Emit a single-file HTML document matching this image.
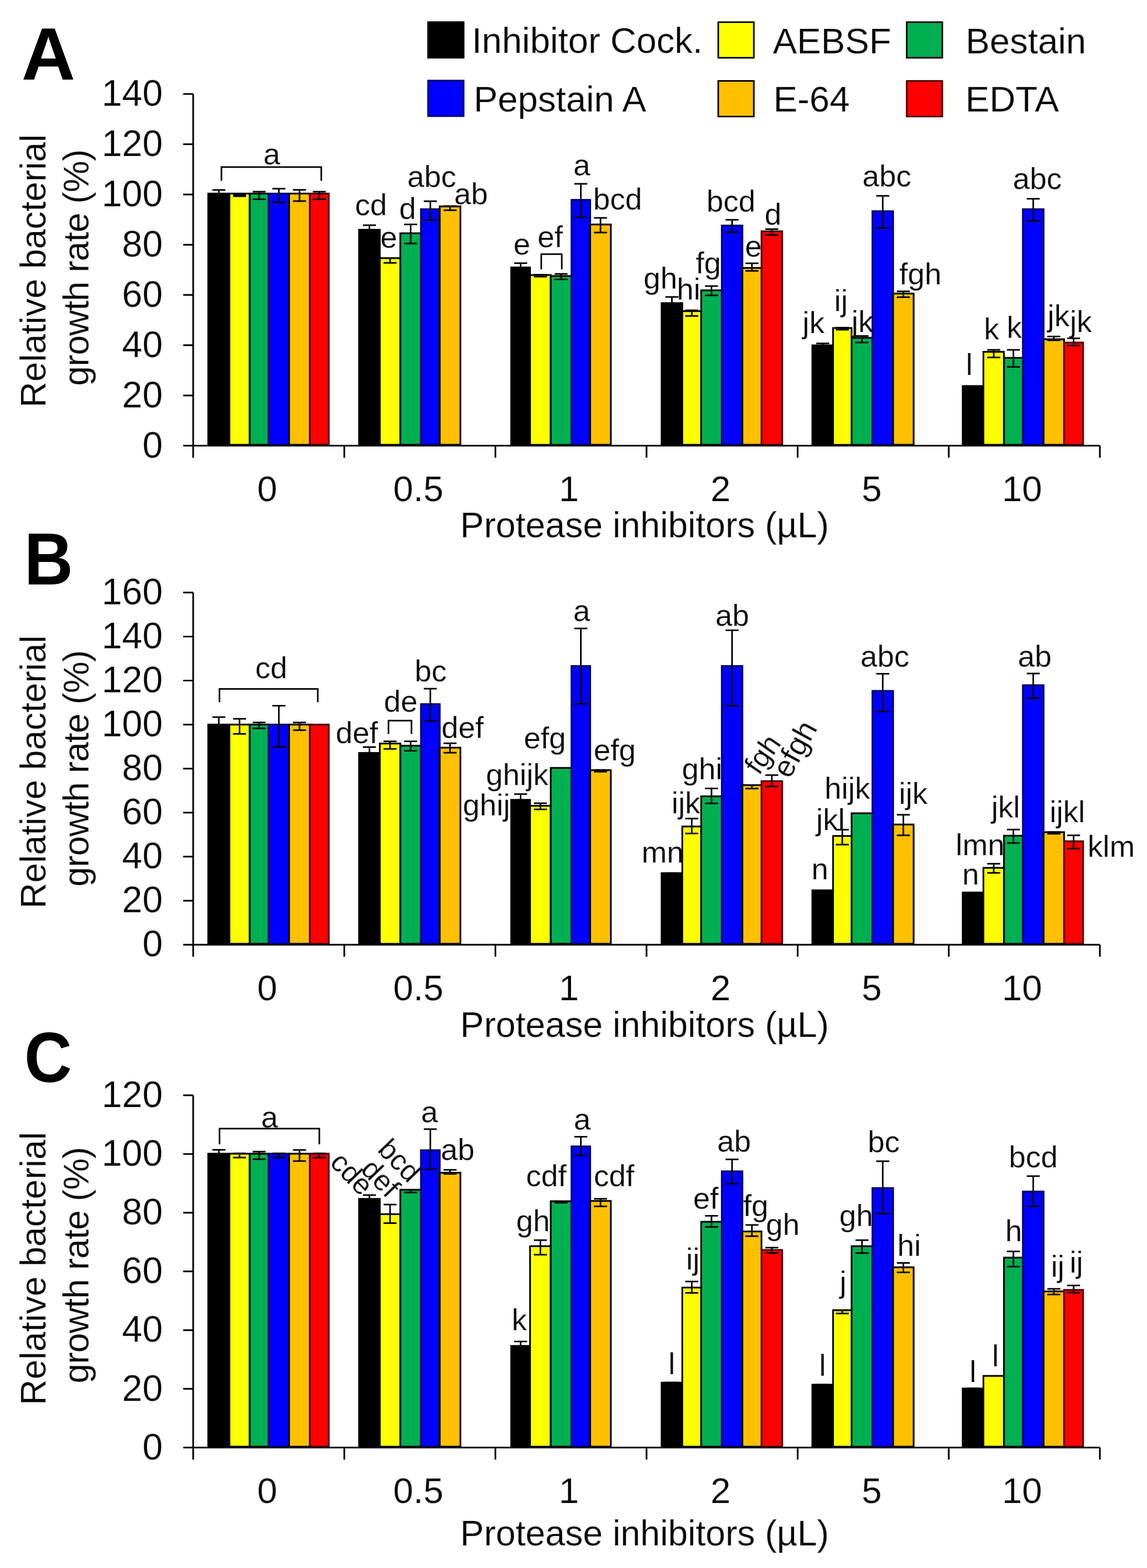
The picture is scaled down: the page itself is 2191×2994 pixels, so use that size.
<!DOCTYPE html>
<html><head><meta charset="utf-8"><title>Protease inhibitors</title><style>html,body{margin:0;padding:0;background:#fff;}svg{display:block;}</style></head><body>
<svg width="2191" height="2994" viewBox="0 0 2191 2994" font-family="'Liberation Sans', Arial, sans-serif" fill="#000">
<rect width="2191" height="2994" fill="#fff"/>
<rect x="397.8" y="369.6" width="40.4" height="479.7" fill="#000000" stroke="#000000" stroke-width="3.3"/>
<rect x="438.2" y="369.6" width="38.8" height="479.7" fill="#FFFF00" stroke="#000000" stroke-width="3.3"/>
<rect x="477" y="369.6" width="36.1" height="479.7" fill="#00B050" stroke="#000000" stroke-width="3.3"/>
<rect x="513.1" y="369.6" width="39.1" height="479.7" fill="#0000FF" stroke="#00006A" stroke-width="3.3"/>
<rect x="552.2" y="369.6" width="39.8" height="479.7" fill="#FFC000" stroke="#000000" stroke-width="3.3"/>
<rect x="592" y="369.6" width="36" height="479.7" fill="#FF0000" stroke="#4A0000" stroke-width="3.3"/>
<rect x="685.9" y="438.7" width="39.6" height="410.6" fill="#000000" stroke="#000000" stroke-width="3.3"/>
<rect x="725.5" y="492.9" width="39.2" height="356.4" fill="#FFFF00" stroke="#000000" stroke-width="3.3"/>
<rect x="764.7" y="445.4" width="39.4" height="403.9" fill="#00B050" stroke="#000000" stroke-width="3.3"/>
<rect x="804.1" y="399.4" width="35.9" height="450" fill="#0000FF" stroke="#00006A" stroke-width="3.3"/>
<rect x="840" y="394.1" width="39.5" height="455.2" fill="#FFC000" stroke="#000000" stroke-width="3.3"/>
<rect x="976.5" y="510.7" width="36" height="338.7" fill="#000000" stroke="#000000" stroke-width="3.3"/>
<rect x="1012.5" y="525.1" width="39.5" height="324.3" fill="#FFFF00" stroke="#000000" stroke-width="3.3"/>
<rect x="1052" y="527" width="39.6" height="322.4" fill="#00B050" stroke="#000000" stroke-width="3.3"/>
<rect x="1091.6" y="381.6" width="35.8" height="467.7" fill="#0000FF" stroke="#00006A" stroke-width="3.3"/>
<rect x="1127.4" y="428.6" width="39.4" height="420.7" fill="#FFC000" stroke="#000000" stroke-width="3.3"/>
<rect x="1263.8" y="578.8" width="39.6" height="270.6" fill="#000000" stroke="#000000" stroke-width="3.3"/>
<rect x="1303.3" y="594.1" width="36.1" height="255.2" fill="#FFFF00" stroke="#000000" stroke-width="3.3"/>
<rect x="1339.4" y="554.3" width="39.4" height="295" fill="#00B050" stroke="#000000" stroke-width="3.3"/>
<rect x="1378.8" y="430.6" width="39.3" height="418.8" fill="#0000FF" stroke="#00006A" stroke-width="3.3"/>
<rect x="1418.1" y="511.6" width="36.5" height="337.7" fill="#FFC000" stroke="#000000" stroke-width="3.3"/>
<rect x="1454.6" y="441.6" width="39.5" height="407.8" fill="#FF0000" stroke="#4A0000" stroke-width="3.3"/>
<rect x="1551.8" y="659.4" width="39.6" height="190" fill="#000000" stroke="#000000" stroke-width="3.3"/>
<rect x="1591.3" y="626.3" width="35.4" height="223.1" fill="#FFFF00" stroke="#000000" stroke-width="3.3"/>
<rect x="1626.7" y="645" width="39.8" height="204.4" fill="#00B050" stroke="#000000" stroke-width="3.3"/>
<rect x="1666.5" y="403.2" width="39.5" height="446.1" fill="#0000FF" stroke="#00006A" stroke-width="3.3"/>
<rect x="1706" y="560.5" width="39.2" height="288.8" fill="#FFC000" stroke="#000000" stroke-width="3.3"/>
<rect x="1839" y="737.1" width="39.5" height="112.3" fill="#000000" stroke="#000000" stroke-width="3.3"/>
<rect x="1878.5" y="671.8" width="39.2" height="177.5" fill="#FFFF00" stroke="#000000" stroke-width="3.3"/>
<rect x="1917.8" y="683.3" width="36.1" height="166" fill="#00B050" stroke="#000000" stroke-width="3.3"/>
<rect x="1953.9" y="399.4" width="39.6" height="450" fill="#0000FF" stroke="#00006A" stroke-width="3.3"/>
<rect x="1993.5" y="647.8" width="39.1" height="201.5" fill="#FFC000" stroke="#000000" stroke-width="3.3"/>
<rect x="2032.6" y="654.1" width="36.3" height="195.3" fill="#FF0000" stroke="#4A0000" stroke-width="3.3"/>
<path d="M418 362.7V383.9M405.6 362.7H430.4M405.6 383.9H430.4" stroke="#000" stroke-width="3.0" fill="none"/>
<path d="M457.6 371.9V374.7M445.2 371.9H470M445.2 374.7H470" stroke="#000" stroke-width="3.0" fill="none"/>
<path d="M495.1 366.1V380.5M482.7 366.1H507.4M482.7 380.5H507.4" stroke="#000" stroke-width="3.0" fill="none"/>
<path d="M532.7 360.3V386.2M520.3 360.3H545.1M520.3 386.2H545.1" stroke="#000" stroke-width="3.0" fill="none"/>
<path d="M572.1 362.5V384.1M559.7 362.5H584.5M559.7 384.1H584.5" stroke="#000" stroke-width="3.0" fill="none"/>
<path d="M610 366.1V380.5M597.6 366.1H622.4M597.6 380.5H622.4" stroke="#000" stroke-width="3.0" fill="none"/>
<path d="M705.7 430V450.1M693.3 430H718.1M693.3 450.1H718.1" stroke="#000" stroke-width="3.0" fill="none"/>
<path d="M745.1 492.3V501.9M732.7 501.9H757.5" stroke="#000" stroke-width="3.0" fill="none"/>
<path d="M784.4 428.6V465M772 428.6H796.8M772 465H796.8" stroke="#000" stroke-width="3.0" fill="none"/>
<path d="M822 384.2V420.5M809.6 384.2H834.4M809.6 420.5H834.4" stroke="#000" stroke-width="3.0" fill="none"/>
<path d="M859.7 393.4V401.5M847.3 393.4H872.1M847.3 401.5H872.1" stroke="#000" stroke-width="3.0" fill="none"/>
<path d="M994.5 502.4V521.6M982.1 502.4H1006.9M982.1 521.6H1006.9" stroke="#000" stroke-width="3.0" fill="none"/>
<path d="M1032.3 524.5V528.3M1019.9 524.5H1044.7M1019.9 528.3H1044.7" stroke="#000" stroke-width="3.0" fill="none"/>
<path d="M1071.8 523V533.6M1059.4 523H1084.2M1059.4 533.6H1084.2" stroke="#000" stroke-width="3.0" fill="none"/>
<path d="M1109.5 350.9V415.1M1097.1 350.9H1121.9M1097.1 415.1H1121.9" stroke="#000" stroke-width="3.0" fill="none"/>
<path d="M1147.1 416.1V443.9M1134.7 416.1H1159.5M1134.7 443.9H1159.5" stroke="#000" stroke-width="3.0" fill="none"/>
<path d="M1283.5 567.1V587.2M1271.1 567.1H1296M1271.1 587.2H1296" stroke="#000" stroke-width="3.0" fill="none"/>
<path d="M1321.4 592.4V603.3M1309 592.4H1333.8M1309 603.3H1333.8" stroke="#000" stroke-width="3.0" fill="none"/>
<path d="M1359.1 546.2V564.1M1346.7 546.2H1371.5M1346.7 564.1H1371.5" stroke="#000" stroke-width="3.0" fill="none"/>
<path d="M1398.4 419.8V443.4M1386 419.8H1410.8M1386 443.4H1410.8" stroke="#000" stroke-width="3.0" fill="none"/>
<path d="M1436.3 502.8V517.2M1423.9 502.8H1448.8M1423.9 517.2H1448.8" stroke="#000" stroke-width="3.0" fill="none"/>
<path d="M1474.3 437.5V448.4M1461.9 437.5H1486.7M1461.9 448.4H1486.7" stroke="#000" stroke-width="3.0" fill="none"/>
<path d="M1571.5 655.8V659.6M1559.1 655.8H1584M1559.1 659.6H1584" stroke="#000" stroke-width="3.0" fill="none"/>
<path d="M1609 625.7V629.5M1596.6 625.7H1621.4M1596.6 629.5H1621.4" stroke="#000" stroke-width="3.0" fill="none"/>
<path d="M1646.6 641.5V653.9M1634.2 641.5H1659M1634.2 653.9H1659" stroke="#000" stroke-width="3.0" fill="none"/>
<path d="M1686.2 373.9V435.3M1673.8 373.9H1698.7M1673.8 435.3H1698.7" stroke="#000" stroke-width="3.0" fill="none"/>
<path d="M1725.6 556.3V567.5M1713.2 556.3H1738M1713.2 567.5H1738" stroke="#000" stroke-width="3.0" fill="none"/>
<path d="M1898.2 668.1V682.5M1885.8 668.1H1910.6M1885.8 682.5H1910.6" stroke="#000" stroke-width="3.0" fill="none"/>
<path d="M1935.8 668.1V700.5M1923.4 668.1H1948.2M1923.4 700.5H1948.2" stroke="#000" stroke-width="3.0" fill="none"/>
<path d="M1973.7 379.6V421.8M1961.3 379.6H1986.1M1961.3 421.8H1986.1" stroke="#000" stroke-width="3.0" fill="none"/>
<path d="M2013 642.5V649.8M2000.6 642.5H2025.5M2000.6 649.8H2025.5" stroke="#000" stroke-width="3.0" fill="none"/>
<path d="M2050.8 646.1V659.7M2038.4 646.1H2063.2M2038.4 659.7H2063.2" stroke="#000" stroke-width="3.0" fill="none"/>
<path d="M369.0 179.5V874" stroke="#000" stroke-width="3.2" fill="none"/>
<path d="M369.0 851H2101.0" stroke="#000" stroke-width="3.2" fill="none"/>
<path d="M350 851H369.0M350 755.1H369.0M350 659.1H369.0M350 563.2H369.0M350 467.3H369.0M350 371.4H369.0M350 275.4H369.0M350 179.5H369.0M657.7 851V874M946.3 851V874M1235 851V874M1523.7 851V874M1812.3 851V874M2101 851V874" stroke="#000" stroke-width="3.2" fill="none"/>
<path d="M423 345.3V319H613.7V345.3" stroke="#000" stroke-width="3.0" fill="none"/>
<path d="M1033.9 514.3V485.2H1073.1V514.3" stroke="#000" stroke-width="3.0" fill="none"/>
<rect x="397.8" y="1383.5" width="40.4" height="418.6" fill="#000000" stroke="#000000" stroke-width="3.3"/>
<rect x="438.2" y="1383.5" width="38.8" height="418.6" fill="#FFFF00" stroke="#000000" stroke-width="3.3"/>
<rect x="477" y="1383.5" width="36.1" height="418.6" fill="#00B050" stroke="#000000" stroke-width="3.3"/>
<rect x="513.1" y="1383.5" width="39.1" height="418.6" fill="#0000FF" stroke="#00006A" stroke-width="3.3"/>
<rect x="552.2" y="1383.5" width="39.8" height="418.6" fill="#FFC000" stroke="#000000" stroke-width="3.3"/>
<rect x="592" y="1383.5" width="36" height="418.6" fill="#FF0000" stroke="#4A0000" stroke-width="3.3"/>
<rect x="685.9" y="1437.7" width="39.6" height="364.4" fill="#000000" stroke="#000000" stroke-width="3.3"/>
<rect x="725.5" y="1419.7" width="39.2" height="382.5" fill="#FFFF00" stroke="#000000" stroke-width="3.3"/>
<rect x="764.7" y="1423.9" width="39.4" height="378.3" fill="#00B050" stroke="#000000" stroke-width="3.3"/>
<rect x="804.1" y="1344.4" width="35.9" height="457.7" fill="#0000FF" stroke="#00006A" stroke-width="3.3"/>
<rect x="840" y="1427.6" width="39.5" height="374.5" fill="#FFC000" stroke="#000000" stroke-width="3.3"/>
<rect x="976.5" y="1527.2" width="36" height="274.9" fill="#000000" stroke="#000000" stroke-width="3.3"/>
<rect x="1012.5" y="1538.6" width="39.5" height="263.6" fill="#FFFF00" stroke="#000000" stroke-width="3.3"/>
<rect x="1052" y="1466.3" width="39.6" height="335.8" fill="#00B050" stroke="#000000" stroke-width="3.3"/>
<rect x="1091.6" y="1271.7" width="35.8" height="530.4" fill="#0000FF" stroke="#00006A" stroke-width="3.3"/>
<rect x="1127.4" y="1470.5" width="39.4" height="331.6" fill="#FFC000" stroke="#000000" stroke-width="3.3"/>
<rect x="1263.8" y="1667.2" width="39.6" height="135" fill="#000000" stroke="#000000" stroke-width="3.3"/>
<rect x="1303.3" y="1578.1" width="36.1" height="224.1" fill="#FFFF00" stroke="#000000" stroke-width="3.3"/>
<rect x="1339.4" y="1520.5" width="39.4" height="281.6" fill="#00B050" stroke="#000000" stroke-width="3.3"/>
<rect x="1378.8" y="1271.7" width="39.3" height="530.4" fill="#0000FF" stroke="#00006A" stroke-width="3.3"/>
<rect x="1418.1" y="1499.1" width="36.5" height="303.1" fill="#FFC000" stroke="#000000" stroke-width="3.3"/>
<rect x="1454.6" y="1491.5" width="39.5" height="310.6" fill="#FF0000" stroke="#4A0000" stroke-width="3.3"/>
<rect x="1551.8" y="1700" width="39.6" height="102.2" fill="#000000" stroke="#000000" stroke-width="3.3"/>
<rect x="1591.3" y="1596.2" width="35.4" height="206" fill="#FFFF00" stroke="#000000" stroke-width="3.3"/>
<rect x="1626.7" y="1552.9" width="39.8" height="249.3" fill="#00B050" stroke="#000000" stroke-width="3.3"/>
<rect x="1666.5" y="1319.2" width="39.5" height="482.9" fill="#0000FF" stroke="#00006A" stroke-width="3.3"/>
<rect x="1706" y="1574.3" width="39.2" height="227.8" fill="#FFC000" stroke="#000000" stroke-width="3.3"/>
<rect x="1839" y="1704.2" width="39.5" height="98" fill="#000000" stroke="#000000" stroke-width="3.3"/>
<rect x="1878.5" y="1657.1" width="39.2" height="145" fill="#FFFF00" stroke="#000000" stroke-width="3.3"/>
<rect x="1917.8" y="1595.7" width="36.1" height="206.4" fill="#00B050" stroke="#000000" stroke-width="3.3"/>
<rect x="1953.9" y="1308.3" width="39.6" height="493.9" fill="#0000FF" stroke="#00006A" stroke-width="3.3"/>
<rect x="1993.5" y="1589" width="39.1" height="213.1" fill="#FFC000" stroke="#000000" stroke-width="3.3"/>
<rect x="2032.6" y="1606.3" width="36.3" height="195.9" fill="#FF0000" stroke="#4A0000" stroke-width="3.3"/>
<path d="M418 1369.2V1404.5M405.6 1369.2H430.4M405.6 1404.5H430.4" stroke="#000" stroke-width="3.0" fill="none"/>
<path d="M457.6 1372.5V1401.3M445.2 1372.5H470M445.2 1401.3H470" stroke="#000" stroke-width="3.0" fill="none"/>
<path d="M495.1 1379.6V1390.7M482.7 1379.6H507.4M482.7 1390.7H507.4" stroke="#000" stroke-width="3.0" fill="none"/>
<path d="M532.7 1347.6V1426.6M520.3 1347.6H545.1M520.3 1426.6H545.1" stroke="#000" stroke-width="3.0" fill="none"/>
<path d="M572.1 1379.6V1394.3M559.7 1379.6H584.5M559.7 1394.3H584.5" stroke="#000" stroke-width="3.0" fill="none"/>
<path d="M705.7 1426.5V1451.7M693.3 1426.5H718.1M693.3 1451.7H718.1" stroke="#000" stroke-width="3.0" fill="none"/>
<path d="M745.1 1415.5V1429.9M732.7 1415.5H757.5M732.7 1429.9H757.5" stroke="#000" stroke-width="3.0" fill="none"/>
<path d="M784.4 1415.6V1433.6M772 1415.6H796.8M772 1433.6H796.8" stroke="#000" stroke-width="3.0" fill="none"/>
<path d="M822 1315V1376.3M809.6 1315H834.4M809.6 1376.3H834.4" stroke="#000" stroke-width="3.0" fill="none"/>
<path d="M859.7 1419.3V1437.3M847.3 1419.3H872.1M847.3 1437.3H872.1" stroke="#000" stroke-width="3.0" fill="none"/>
<path d="M994.5 1516.2V1541M982.1 1516.2H1006.9M982.1 1541H1006.9" stroke="#000" stroke-width="3.0" fill="none"/>
<path d="M1032.3 1533.8V1545.5M1019.9 1533.8H1044.7M1019.9 1545.5H1044.7" stroke="#000" stroke-width="3.0" fill="none"/>
<path d="M1109.5 1200V1343.7M1097.1 1200H1121.9M1097.1 1343.7H1121.9" stroke="#000" stroke-width="3.0" fill="none"/>
<path d="M1147.1 1470.2V1473.5M1134.7 1470.2H1159.5M1134.7 1473.5H1159.5" stroke="#000" stroke-width="3.0" fill="none"/>
<path d="M1283.5 1667.3V1669.8M1271.1 1667.3H1296M1271.1 1669.8H1296" stroke="#000" stroke-width="3.0" fill="none"/>
<path d="M1321.4 1563.1V1591.4M1309 1563.1H1333.8M1309 1591.4H1333.8" stroke="#000" stroke-width="3.0" fill="none"/>
<path d="M1359.1 1505.4V1534.1M1346.7 1505.4H1371.5M1346.7 1534.1H1371.5" stroke="#000" stroke-width="3.0" fill="none"/>
<path d="M1398.4 1203.4V1347.6M1386 1203.4H1410.8M1386 1347.6H1410.8" stroke="#000" stroke-width="3.0" fill="none"/>
<path d="M1436.3 1499.5V1505.8M1423.9 1499.5H1448.8M1423.9 1505.8H1448.8" stroke="#000" stroke-width="3.0" fill="none"/>
<path d="M1474.3 1480.1V1501.7M1461.9 1480.1H1486.7M1461.9 1501.7H1486.7" stroke="#000" stroke-width="3.0" fill="none"/>
<path d="M1609 1584.2V1612.8M1596.6 1584.2H1621.4M1596.6 1612.8H1621.4" stroke="#000" stroke-width="3.0" fill="none"/>
<path d="M1686.2 1286.4V1358.5M1673.8 1286.4H1698.7M1673.8 1358.5H1698.7" stroke="#000" stroke-width="3.0" fill="none"/>
<path d="M1725.6 1555.7V1595.1M1713.2 1555.7H1738M1713.2 1595.1H1738" stroke="#000" stroke-width="3.0" fill="none"/>
<path d="M1898.2 1649.2V1666.7M1885.8 1649.2H1910.6M1885.8 1666.7H1910.6" stroke="#000" stroke-width="3.0" fill="none"/>
<path d="M1935.8 1583.9V1609.7M1923.4 1583.9H1948.2M1923.4 1609.7H1948.2" stroke="#000" stroke-width="3.0" fill="none"/>
<path d="M1973.7 1286.1V1333M1961.3 1286.1H1986.1M1961.3 1333H1986.1" stroke="#000" stroke-width="3.0" fill="none"/>
<path d="M2013 1588.7V1592.1M2000.6 1588.7H2025.5M2000.6 1592.1H2025.5" stroke="#000" stroke-width="3.0" fill="none"/>
<path d="M2050.8 1595V1620.2M2038.4 1595H2063.2M2038.4 1620.2H2063.2" stroke="#000" stroke-width="3.0" fill="none"/>
<path d="M369.0 1131.4V1826.8" stroke="#000" stroke-width="3.2" fill="none"/>
<path d="M369.0 1803.8H2101.0" stroke="#000" stroke-width="3.2" fill="none"/>
<path d="M350 1803.8H369.0M350 1719.8H369.0M350 1635.7H369.0M350 1551.7H369.0M350 1467.6H369.0M350 1383.6H369.0M350 1299.5H369.0M350 1215.5H369.0M350 1131.4H369.0M657.7 1803.8V1826.8M946.3 1803.8V1826.8M1235 1803.8V1826.8M1523.7 1803.8V1826.8M1812.3 1803.8V1826.8M2101 1803.8V1826.8" stroke="#000" stroke-width="3.2" fill="none"/>
<path d="M419.2 1340.8V1315.4H607V1340.8" stroke="#000" stroke-width="3.0" fill="none"/>
<path d="M742.1 1401.4V1376H786V1401.4" stroke="#000" stroke-width="3.0" fill="none"/>
<rect x="397.8" y="2202.9" width="40.4" height="559.4" fill="#000000" stroke="#000000" stroke-width="3.3"/>
<rect x="438.2" y="2202.9" width="38.8" height="559.4" fill="#FFFF00" stroke="#000000" stroke-width="3.3"/>
<rect x="477" y="2202.9" width="36.1" height="559.4" fill="#00B050" stroke="#000000" stroke-width="3.3"/>
<rect x="513.1" y="2202.9" width="39.1" height="559.4" fill="#0000FF" stroke="#00006A" stroke-width="3.3"/>
<rect x="552.2" y="2202.9" width="39.8" height="559.4" fill="#FFC000" stroke="#000000" stroke-width="3.3"/>
<rect x="592" y="2202.9" width="36" height="559.4" fill="#FF0000" stroke="#4A0000" stroke-width="3.3"/>
<rect x="685.9" y="2289.2" width="39.6" height="473.1" fill="#000000" stroke="#000000" stroke-width="3.3"/>
<rect x="725.5" y="2318.4" width="39.2" height="444" fill="#FFFF00" stroke="#000000" stroke-width="3.3"/>
<rect x="764.7" y="2271.8" width="39.4" height="490.5" fill="#00B050" stroke="#000000" stroke-width="3.3"/>
<rect x="804.1" y="2196.2" width="35.9" height="566.2" fill="#0000FF" stroke="#00006A" stroke-width="3.3"/>
<rect x="840" y="2239.3" width="39.5" height="523" fill="#FFC000" stroke="#000000" stroke-width="3.3"/>
<rect x="976.5" y="2570" width="36" height="192.3" fill="#000000" stroke="#000000" stroke-width="3.3"/>
<rect x="1012.5" y="2379.5" width="39.5" height="382.9" fill="#FFFF00" stroke="#000000" stroke-width="3.3"/>
<rect x="1052" y="2293.7" width="39.6" height="468.6" fill="#00B050" stroke="#000000" stroke-width="3.3"/>
<rect x="1091.6" y="2188.9" width="35.8" height="573.5" fill="#0000FF" stroke="#00006A" stroke-width="3.3"/>
<rect x="1127.4" y="2293.1" width="39.4" height="469.2" fill="#FFC000" stroke="#000000" stroke-width="3.3"/>
<rect x="1263.8" y="2640.1" width="39.6" height="122.3" fill="#000000" stroke="#000000" stroke-width="3.3"/>
<rect x="1303.3" y="2458.5" width="36.1" height="303.9" fill="#FFFF00" stroke="#000000" stroke-width="3.3"/>
<rect x="1339.4" y="2332.9" width="39.4" height="429.4" fill="#00B050" stroke="#000000" stroke-width="3.3"/>
<rect x="1378.8" y="2236.5" width="39.3" height="525.8" fill="#0000FF" stroke="#00006A" stroke-width="3.3"/>
<rect x="1418.1" y="2351.4" width="36.5" height="410.9" fill="#FFC000" stroke="#000000" stroke-width="3.3"/>
<rect x="1454.6" y="2386.8" width="39.5" height="375.6" fill="#FF0000" stroke="#4A0000" stroke-width="3.3"/>
<rect x="1551.8" y="2644" width="39.6" height="118.3" fill="#000000" stroke="#000000" stroke-width="3.3"/>
<rect x="1591.3" y="2501.7" width="35.4" height="260.7" fill="#FFFF00" stroke="#000000" stroke-width="3.3"/>
<rect x="1626.7" y="2379.5" width="39.8" height="382.9" fill="#00B050" stroke="#000000" stroke-width="3.3"/>
<rect x="1666.5" y="2268.5" width="39.5" height="493.9" fill="#0000FF" stroke="#00006A" stroke-width="3.3"/>
<rect x="1706" y="2419.8" width="39.2" height="342.5" fill="#FFC000" stroke="#000000" stroke-width="3.3"/>
<rect x="1839" y="2651.3" width="39.5" height="111" fill="#000000" stroke="#000000" stroke-width="3.3"/>
<rect x="1878.5" y="2627.2" width="39.2" height="135.1" fill="#FFFF00" stroke="#000000" stroke-width="3.3"/>
<rect x="1917.8" y="2401.3" width="36.1" height="361" fill="#00B050" stroke="#000000" stroke-width="3.3"/>
<rect x="1953.9" y="2275.2" width="39.6" height="487.1" fill="#0000FF" stroke="#00006A" stroke-width="3.3"/>
<rect x="1993.5" y="2465.8" width="39.1" height="296.6" fill="#FFC000" stroke="#000000" stroke-width="3.3"/>
<rect x="2032.6" y="2463" width="36.3" height="299.4" fill="#FF0000" stroke="#4A0000" stroke-width="3.3"/>
<path d="M418 2195.6V2216.9M405.6 2195.6H430.4M405.6 2216.9H430.4" stroke="#000" stroke-width="3.0" fill="none"/>
<path d="M457.6 2202.3V2210.2M445.2 2202.3H470M445.2 2210.2H470" stroke="#000" stroke-width="3.0" fill="none"/>
<path d="M495.1 2199V2213.5M482.7 2199H507.4M482.7 2213.5H507.4" stroke="#000" stroke-width="3.0" fill="none"/>
<path d="M532.7 2202.3V2210.2M520.3 2202.3H545.1M520.3 2210.2H545.1" stroke="#000" stroke-width="3.0" fill="none"/>
<path d="M572.1 2195.8V2217.1M559.7 2195.8H584.5M559.7 2217.1H584.5" stroke="#000" stroke-width="3.0" fill="none"/>
<path d="M610 2202.3V2210.2M597.6 2202.3H622.4M597.6 2210.2H622.4" stroke="#000" stroke-width="3.0" fill="none"/>
<path d="M705.7 2282.1V2299.1M693.3 2282.1H718.1M693.3 2299.1H718.1" stroke="#000" stroke-width="3.0" fill="none"/>
<path d="M745.1 2299.9V2335.5M732.7 2299.9H757.5M732.7 2335.5H757.5" stroke="#000" stroke-width="3.0" fill="none"/>
<path d="M784.4 2271.4V2277M772 2271.4H796.8M772 2277H796.8" stroke="#000" stroke-width="3.0" fill="none"/>
<path d="M822 2156V2233.1M809.6 2156H834.4M809.6 2233.1H834.4" stroke="#000" stroke-width="3.0" fill="none"/>
<path d="M859.7 2233.8V2241.6M847.3 2233.8H872.1M847.3 2241.6H872.1" stroke="#000" stroke-width="3.0" fill="none"/>
<path d="M994.5 2561.6V2581.2M982.1 2561.6H1006.9M982.1 2581.2H1006.9" stroke="#000" stroke-width="3.0" fill="none"/>
<path d="M1032.3 2368V2395.8M1019.9 2368H1044.7M1019.9 2395.8H1044.7" stroke="#000" stroke-width="3.0" fill="none"/>
<path d="M1071.8 2293.5V2296.6M1059.4 2293.5H1084.2M1059.4 2296.6H1084.2" stroke="#000" stroke-width="3.0" fill="none"/>
<path d="M1109.5 2170.4V2206.3M1097.1 2170.4H1121.9M1097.1 2206.3H1121.9" stroke="#000" stroke-width="3.0" fill="none"/>
<path d="M1147.1 2289V2303.4M1134.7 2289H1159.5M1134.7 2303.4H1159.5" stroke="#000" stroke-width="3.0" fill="none"/>
<path d="M1283.5 2639.8V2643.1M1271.1 2639.8H1296M1271.1 2643.1H1296" stroke="#000" stroke-width="3.0" fill="none"/>
<path d="M1321.4 2447V2468.7M1309 2447H1333.8M1309 2468.7H1333.8" stroke="#000" stroke-width="3.0" fill="none"/>
<path d="M1359.1 2321.5V2342.7M1346.7 2321.5H1371.5M1346.7 2342.7H1371.5" stroke="#000" stroke-width="3.0" fill="none"/>
<path d="M1398.4 2213.7V2260.3M1386 2213.7H1410.8M1386 2260.3H1410.8" stroke="#000" stroke-width="3.0" fill="none"/>
<path d="M1436.3 2339.1V2360.4M1423.9 2339.1H1448.8M1423.9 2360.4H1448.8" stroke="#000" stroke-width="3.0" fill="none"/>
<path d="M1474.3 2382.2V2392.4M1461.9 2382.2H1486.7M1461.9 2392.4H1486.7" stroke="#000" stroke-width="3.0" fill="none"/>
<path d="M1571.5 2643.7V2647.1M1559.1 2643.7H1584M1559.1 2647.1H1584" stroke="#000" stroke-width="3.0" fill="none"/>
<path d="M1609 2502V2508M1596.6 2502H1621.4M1596.6 2508H1621.4" stroke="#000" stroke-width="3.0" fill="none"/>
<path d="M1646.6 2368V2392.8M1634.2 2368H1659M1634.2 2392.8H1659" stroke="#000" stroke-width="3.0" fill="none"/>
<path d="M1686.2 2217.2V2317.3M1673.8 2217.2H1698.7M1673.8 2317.3H1698.7" stroke="#000" stroke-width="3.0" fill="none"/>
<path d="M1725.6 2411.4V2429.5M1713.2 2411.4H1738M1713.2 2429.5H1738" stroke="#000" stroke-width="3.0" fill="none"/>
<path d="M1858.8 2651V2654.3M1846.4 2651H1871.2M1846.4 2654.3H1871.2" stroke="#000" stroke-width="3.0" fill="none"/>
<path d="M1935.8 2389.6V2418.5M1923.4 2389.6H1948.2M1923.4 2418.5H1948.2" stroke="#000" stroke-width="3.0" fill="none"/>
<path d="M1973.7 2245.7V2303.6M1961.3 2245.7H1986.1M1961.3 2303.6H1986.1" stroke="#000" stroke-width="3.0" fill="none"/>
<path d="M2013 2461.1V2471.8M2000.6 2461.1H2025.5M2000.6 2471.8H2025.5" stroke="#000" stroke-width="3.0" fill="none"/>
<path d="M2050.8 2454.4V2468.3M2038.4 2454.4H2063.2M2038.4 2468.3H2063.2" stroke="#000" stroke-width="3.0" fill="none"/>
<path d="M369.0 2091.4V2787" stroke="#000" stroke-width="3.2" fill="none"/>
<path d="M369.0 2764H2101.0" stroke="#000" stroke-width="3.2" fill="none"/>
<path d="M350 2764H369.0M350 2651.9H369.0M350 2539.8H369.0M350 2427.7H369.0M350 2315.6H369.0M350 2203.5H369.0M350 2091.4H369.0M657.7 2764V2787M946.3 2764V2787M1235 2764V2787M1523.7 2764V2787M1812.3 2764V2787M2101 2764V2787" stroke="#000" stroke-width="3.2" fill="none"/>
<path d="M419.3 2185V2155.1H610V2185" stroke="#000" stroke-width="3.0" fill="none"/>
<text transform="translate(41 152.1) scale(1.0177 1.0050)" x="0" y="0" font-size="140" font-weight="bold">A</text>
<text transform="translate(46.3 1115.7) scale(0.9239 1.0081)" x="0" y="0" font-size="140" font-weight="bold">B</text>
<text transform="translate(46.4 2066.2) scale(0.8989 0.9736)" x="0" y="0" font-size="140" font-weight="bold">C</text>
<rect x="817.7" y="42.2" width="68" height="68" fill="#000000" stroke="#000000" stroke-width="3"/>
<rect x="1372" y="42.3" width="68" height="68" fill="#FFFF00" stroke="#000000" stroke-width="3"/>
<rect x="1732" y="42.3" width="68" height="68" fill="#00B050" stroke="#000000" stroke-width="3"/>
<rect x="817.7" y="153.8" width="68" height="68" fill="#0000FF" stroke="#00006A" stroke-width="3"/>
<rect x="1372" y="154.5" width="68" height="68" fill="#FFC000" stroke="#000000" stroke-width="3"/>
<rect x="1732" y="154.5" width="68" height="68" fill="#FF0000" stroke="#4A0000" stroke-width="3"/>
<defs><filter id="thin" x="0" y="0" width="2191" height="2994" filterUnits="userSpaceOnUse"><feMorphology in="SourceGraphic" operator="erode" radius="0.6" result="core"/><feComponentTransfer in="SourceGraphic" result="halo"><feFuncA type="linear" slope="0.8"/></feComponentTransfer><feMerge><feMergeNode in="halo"/><feMergeNode in="core"/></feMerge></filter></defs>
<g filter="url(#thin)">
<text x="272" y="873.6" font-size="70">0</text>
<text x="233.1" y="777.7" font-size="70">20</text>
<text x="233.1" y="681.8" font-size="70">40</text>
<text x="233.1" y="585.8" font-size="70">60</text>
<text x="233.1" y="489.9" font-size="70">80</text>
<text x="194.2" y="394" font-size="70">100</text>
<text x="194.2" y="298" font-size="70">120</text>
<text x="194.2" y="202.1" font-size="70">140</text>
<text x="491.2" y="957" font-size="69">0</text>
<text x="751.1" y="957" font-size="69">0.5</text>
<text x="1067.6" y="957" font-size="69">1</text>
<text x="1357.2" y="957" font-size="69">2</text>
<text x="1645.9" y="957" font-size="69">5</text>
<text x="1914" y="957" font-size="69">10</text>
<text x="879.1" y="1026" font-size="68">Protease inhibitors (µL)</text>
<text transform="translate(87 516.6) rotate(-90)" x="-261.3" y="0" font-size="68">Relative bacterial</text>
<text transform="translate(169 511.6) rotate(-90)" x="-225.1" y="0" font-size="68" textLength="451.6" lengthAdjust="spacing">growth rate (%)</text>
<text x="678.1" y="410.8" font-size="58">cd</text>
<text x="726.4" y="472.5" font-size="58">e</text>
<text x="762.5" y="418" font-size="58">d</text>
<text x="778" y="357.2" font-size="58">abc</text>
<text x="867.5" y="389.9" font-size="58">ab</text>
<text x="980.8" y="486.3" font-size="58">e</text>
<text x="1026.8" y="471.8" font-size="58">ef</text>
<text x="1095.2" y="334.5" font-size="58">a</text>
<text x="1133.1" y="399.9" font-size="58">bcd</text>
<text x="1229.3" y="550.7" font-size="58">gh</text>
<text x="1292.7" y="571.6" font-size="58">hi</text>
<text x="1329" y="521.6" font-size="58">fg</text>
<text x="1349.4" y="403.6" font-size="58">bcd</text>
<text x="1423.1" y="489.8" font-size="58">e</text>
<text x="1460.4" y="429" font-size="58">d</text>
<text x="1533" y="636.2" font-size="58">jk</text>
<text x="1593.6" y="593.5" font-size="58">ij</text>
<text x="1626.5" y="633.5" font-size="58">jk</text>
<text x="1647.3" y="356.3" font-size="58">abc</text>
<text x="1717.8" y="543.3" font-size="58">fgh</text>
<text x="1845" y="716.2" font-size="58">l</text>
<text x="1879.5" y="648.1" font-size="58">k</text>
<text x="1922.9" y="644.7" font-size="58">k</text>
<text x="1934.8" y="360.7" font-size="58">abc</text>
<text x="2001" y="622.7" font-size="58">jk</text>
<text x="2043.8" y="633.6" font-size="58">jk</text>
<text x="502.9" y="314" font-size="58">a</text>
<text x="272" y="1826.4" font-size="70">0</text>
<text x="233.1" y="1742.4" font-size="70">20</text>
<text x="233.1" y="1658.3" font-size="70">40</text>
<text x="233.1" y="1574.3" font-size="70">60</text>
<text x="233.1" y="1490.2" font-size="70">80</text>
<text x="194.2" y="1406.2" font-size="70">100</text>
<text x="194.2" y="1322.1" font-size="70">120</text>
<text x="194.2" y="1238.1" font-size="70">140</text>
<text x="194.2" y="1154" font-size="70">160</text>
<text x="491.2" y="1909.8" font-size="69">0</text>
<text x="751.1" y="1909.8" font-size="69">0.5</text>
<text x="1067.6" y="1909.8" font-size="69">1</text>
<text x="1357.2" y="1909.8" font-size="69">2</text>
<text x="1645.9" y="1909.8" font-size="69">5</text>
<text x="1914" y="1909.8" font-size="69">10</text>
<text x="879.1" y="1980.3" font-size="68">Protease inhibitors (µL)</text>
<text transform="translate(87 1473.4) rotate(-90)" x="-261.3" y="0" font-size="68">Relative bacterial</text>
<text transform="translate(169 1467.8) rotate(-90)" x="-225.1" y="0" font-size="68" textLength="451.6" lengthAdjust="spacing">growth rate (%)</text>
<text x="487.6" y="1294.6" font-size="58">cd</text>
<text x="641.3" y="1418.9" font-size="58">def</text>
<text x="733.3" y="1358.9" font-size="58">de</text>
<text x="791.9" y="1300.8" font-size="58">bc</text>
<text x="843.3" y="1408.7" font-size="58">def</text>
<text x="884.1" y="1557" font-size="58">ghij</text>
<text x="928.3" y="1499.2" font-size="58">ghijk</text>
<text x="1000.5" y="1429.4" font-size="58">efg</text>
<text x="1095.1" y="1186.4" font-size="58">a</text>
<text x="1134" y="1452.3" font-size="58">efg</text>
<text x="1225.5" y="1646.5" font-size="58">mn</text>
<text x="1282.8" y="1552.9" font-size="58">ijk</text>
<text x="1302.4" y="1488" font-size="58">ghi</text>
<text x="1366.6" y="1194.5" font-size="58">ab</text>
<text x="1550.1" y="1678.5" font-size="58">n</text>
<text x="1559.1" y="1585.3" font-size="58">jkl</text>
<text x="1575" y="1525" font-size="58">hijk</text>
<text x="1643.4" y="1273.1" font-size="58">abc</text>
<text x="1717.1" y="1535.1" font-size="58">ijk</text>
<text x="1838.1" y="1689.4" font-size="58">n</text>
<text x="1825.6" y="1632.6" font-size="58">lmn</text>
<text x="1893.7" y="1561" font-size="58">jkl</text>
<text x="1944.3" y="1273.1" font-size="58">ab</text>
<text x="2005.1" y="1570.4" font-size="58">ijkl</text>
<text x="2077.6" y="1635.8" font-size="58">klm</text>
<text transform="translate(1450 1482) rotate(-55)" x="0" y="0" font-size="55">fgh</text>
<text transform="translate(1508 1489) rotate(-61)" x="0" y="0" font-size="58">efgh</text>
<text x="272" y="2786.6" font-size="70">0</text>
<text x="233.1" y="2674.5" font-size="70">20</text>
<text x="233.1" y="2562.4" font-size="70">40</text>
<text x="233.1" y="2450.3" font-size="70">60</text>
<text x="233.1" y="2338.2" font-size="70">80</text>
<text x="194.2" y="2226.1" font-size="70">100</text>
<text x="194.2" y="2114" font-size="70">120</text>
<text x="491.2" y="2870" font-size="69">0</text>
<text x="751.1" y="2870" font-size="69">0.5</text>
<text x="1067.6" y="2870" font-size="69">1</text>
<text x="1357.2" y="2870" font-size="69">2</text>
<text x="1645.9" y="2870" font-size="69">5</text>
<text x="1914" y="2870" font-size="69">10</text>
<text x="879.1" y="2951" font-size="68">Protease inhibitors (µL)</text>
<text transform="translate(87 2421.6) rotate(-90)" x="-261.3" y="0" font-size="68">Relative bacterial</text>
<text transform="translate(169 2416.4) rotate(-90)" x="-225.1" y="0" font-size="68" textLength="451.6" lengthAdjust="spacing">growth rate (%)</text>
<text x="498.7" y="2153.4" font-size="58">a</text>
<text x="804.2" y="2142.6" font-size="58">a</text>
<text x="842" y="2215" font-size="58">ab</text>
<text x="977.5" y="2540.4" font-size="58">k</text>
<text x="986" y="2351" font-size="58">gh</text>
<text x="1004.7" y="2265.2" font-size="58">cdf</text>
<text x="1096.1" y="2157.4" font-size="58">a</text>
<text x="1134.2" y="2265.2" font-size="58">cdf</text>
<text x="1276.8" y="2624" font-size="58">l</text>
<text x="1310.5" y="2423.5" font-size="58">ij</text>
<text x="1324.1" y="2308.3" font-size="58">ef</text>
<text x="1369.9" y="2199" font-size="58">ab</text>
<text x="1419.5" y="2322.2" font-size="58">fg</text>
<text x="1462.9" y="2358.1" font-size="58">gh</text>
<text x="1564.8" y="2626.9" font-size="58">l</text>
<text x="1604.1" y="2468" font-size="58">j</text>
<text x="1603.2" y="2340.7" font-size="58">gh</text>
<text x="1657.6" y="2199.7" font-size="58">bc</text>
<text x="1714" y="2397.7" font-size="58">hi</text>
<text x="1852.1" y="2638.5" font-size="58">l</text>
<text x="1894.9" y="2609.4" font-size="58">l</text>
<text x="1920.2" y="2369.7" font-size="58">h</text>
<text x="1926.9" y="2229.4" font-size="58">bcd</text>
<text x="2007.4" y="2437.9" font-size="58">ij</text>
<text x="2043.2" y="2430.4" font-size="58">ij</text>
<text transform="translate(628 2222) rotate(46)" x="0" y="0" font-size="55">cde</text>
<text transform="translate(687 2235) rotate(46)" x="0" y="0" font-size="55">def</text>
<text transform="translate(719 2197) rotate(46)" x="0" y="0" font-size="55">bcd</text>
<text x="901.2" y="101.4" font-size="69">Inhibitor Cock.</text>
<text x="1476.2" y="101.5" font-size="69">AEBSF</text>
<text x="1844.6" y="101.5" font-size="69">Bestain</text>
<text x="904.7" y="212.8" font-size="69">Pepstain A</text>
<text x="1477.3" y="212.6" font-size="69">E-64</text>
<text x="1843.9" y="212.6" font-size="69">EDTA</text>
</g>
</svg>
</body></html>
